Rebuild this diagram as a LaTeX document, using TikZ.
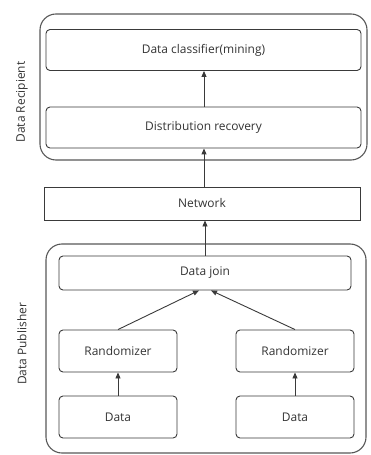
\documentclass[tikz,border=0pt]{standalone}
\usepackage{fontspec}
\setmainfont{Open Sans}
\usetikzlibrary{arrows.meta}
\definecolor{linec}{HTML}{3A3A3A}
\definecolor{textc}{HTML}{333333}
\begin{document}
\begin{tikzpicture}[x=1bp,y=-1bp,
  box/.style={draw=linec,line width=0.9bp,rounded corners=4bp,text=textc,font=\fontsize{12}{14}\selectfont},
  sqbox/.style={draw=linec,line width=0.9bp,text=textc,font=\fontsize{12}{14}\selectfont},
  group/.style={draw=linec!85,line width=1.1bp,rounded corners=16bp},
  side/.style={text=textc,font=\fontsize{12}{14}\selectfont,rotate=90},
  arr/.style={draw=linec,line width=0.9bp,-{Triangle[length=6bp,width=5bp]}}]
\useasboundingbox (0,0) rectangle (370,455);
% group containers
\draw[group] (40,14) rectangle (367,160);
\draw[group] (46,244) rectangle (366,453);
% nodes
\node[box,minimum width=315bp,minimum height=41bp] (cls) at (203.5,50) {Data classifier(mining)};
\node[box,minimum width=315bp,minimum height=41bp] (rec) at (203.5,127.5) {Distribution recovery};
\node[sqbox,minimum width=316bp,minimum height=33bp] (net) at (202,203.5) {Network};
\node[box,minimum width=292bp,minimum height=34bp] (join) at (205,273) {Data join};
\node[box,minimum width=118bp,minimum height=42bp] (rl) at (118,351) {Randomizer};
\node[box,minimum width=118bp,minimum height=42bp] (rr) at (295,351) {Randomizer};
\node[box,minimum width=118bp,minimum height=42bp] (dl) at (118,417) {Data};
\node[box,minimum width=118bp,minimum height=42bp] (dr) at (295,417) {Data};
% side labels
\node[side] (recip) at (22,102) {Data Recipient};
\node[side] (pub) at (22,344) {Data Publisher};
% connectors
\draw[arr] (rec.north -| 204,0) -- (cls.south -| 204,0);
\draw[arr] (net.north -| 204,0) -- (rec.south -| 204,0);
\draw[arr] (join.north -| 205,0) -- (net.south -| 205,0);
\draw[arr] (rl.north) -- (join.south -| 199,0);
\draw[arr] (rr.north) -- (join.south -| 211,0);
\draw[arr] (dl.north) -- (rl.south);
\draw[arr] (dr.north) -- (rr.south);
\end{tikzpicture}
\end{document}
